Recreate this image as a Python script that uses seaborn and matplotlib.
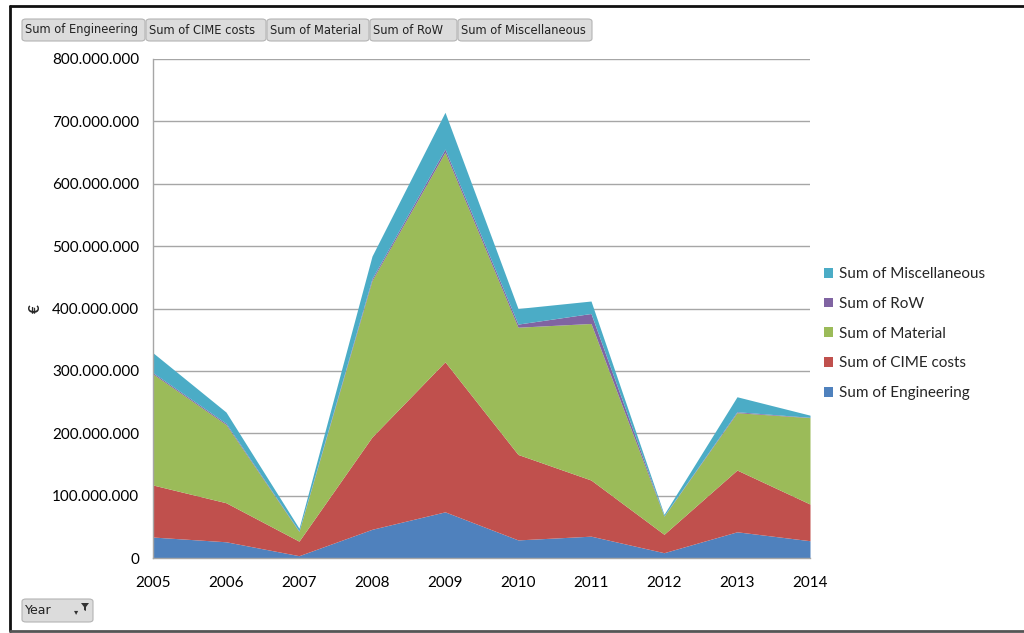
import matplotlib
matplotlib.use("Agg")
import matplotlib.pyplot as plt
from matplotlib.patches import FancyBboxPatch, Patch, Polygon
from matplotlib.lines import Line2D
from matplotlib.ticker import FuncFormatter
import seaborn as sns
import numpy as np

# ---- data (millions of EUR) ----
years = [2005, 2006, 2007, 2008, 2009, 2010, 2011, 2012, 2013, 2014]
engineering = [33.6, 26.0, 3.7, 46.0, 74.0, 29.0, 35.0, 8.5, 42.0, 27.7]
cime_costs = [83.4, 62.6, 23.3, 148.0, 240.6, 137.0, 90.0, 29.5, 99.0, 58.8]
material = [178.0, 125.4, 15.5, 251.0, 336.0, 204.0, 251.0, 29.0, 92.0, 138.5]
row = [2.0, 2.0, 0.7, 3.0, 5.0, 5.0, 16.0, 0.5, 1.5, 0.5]
miscellaneous = [32.0, 18.0, 4.5, 36.0, 59.0, 25.0, 20.0, 2.5, 24.0, 3.5]
series_names = ["Sum of Engineering", "Sum of CIME costs", "Sum of Material",
                "Sum of RoW", "Sum of Miscellaneous"]
y_ticks = [0, 100_000_000, 200_000_000, 300_000_000, 400_000_000,
           500_000_000, 600_000_000, 700_000_000, 800_000_000]

colors = ["#4F81BD", "#C0504D", "#9BBB59", "#8064A2", "#4BACC6"]

sns.set_theme(style="white")
plt.rcParams["font.family"] = ["Lato", "DejaVu Sans"]

fig = plt.figure(figsize=(10.24, 6.33), dpi=100)
ax = fig.add_axes([153 / 1024, 1 - 558 / 633, (810 - 153) / 1024, (558 - 59) / 633])

scale = 1_000_000
vals = [np.array(s) * scale for s in (engineering, cime_costs, material, row, miscellaneous)]
palette = sns.color_palette(colors)
ax.stackplot(years, *vals, colors=palette, linewidth=0, zorder=2)

ax.set_xlim(years[0], years[-1])
ax.set_ylim(y_ticks[0], y_ticks[-1])
ax.set_yticks(y_ticks)
ax.set_xticks(years)
ax.yaxis.set_major_formatter(FuncFormatter(lambda v, p: f"{int(v):,}".replace(",", ".")))
ax.grid(axis="y", color="#A6A6A6", linewidth=1.0, zorder=0)
ax.grid(axis="x", visible=False)
ax.set_axisbelow(True)
for side in ["top", "right"]:
    ax.spines[side].set_visible(False)
for side in ["left", "bottom"]:
    ax.spines[side].set_color("#A6A6A6")
    ax.spines[side].set_linewidth(1.0)
    ax.spines[side].set_zorder(3)
ax.tick_params(axis="both", length=0, labelsize=11, colors="#000000")
ax.tick_params(axis="y", pad=10)
ax.tick_params(axis="x", pad=13)
ax.set_ylabel("€", fontsize=11, fontweight="bold", rotation=90, labelpad=0)
ax.yaxis.set_label_coords((43 - 153) / (810 - 153), 0.5)

# legend (reverse order)
handles = [Patch(facecolor=c, edgecolor="none") for c in colors][::-1]
labels = series_names[::-1]
fig.legend(handles, labels, loc="upper left", bbox_to_anchor=(818 / 1024, 1 - 261 / 633),
           frameon=False, fontsize=11, handlelength=0.6, handleheight=0.6,
           handletextpad=0.4, labelspacing=1.03, borderaxespad=0)

# pivot field buttons
def button(x0, x1, y0, y1, text, size=8.3):
    w = (x1 - x0) / 1024
    h = (y1 - y0) / 633
    p = FancyBboxPatch((x0 / 1024, 1 - y1 / 633), w, h,
                       boxstyle="round,pad=0,rounding_size=0.004",
                       transform=fig.transFigure, facecolor="#DCDCDC",
                       edgecolor="#B4B4B4", linewidth=0.8)
    fig.patches.append(p)
    fig.text(x0 / 1024 + 3 / 1024, 1 - (y0 + y1) / 2 / 633, text, ha="left", va="center",
             fontsize=size, family=["DejaVu Sans"], color="#222222")

btns = [(22, 145, "Sum of Engineering"), (146, 266, "Sum of CIME costs"),
        (267, 369, "Sum of Material"), (370, 457, "Sum of RoW"),
        (458, 592, "Sum of Miscellaneous")]
for x0, x1, t in btns:
    button(x0, x1, 19, 41, t)
button(22, 93, 599, 622, "Year", size=9)
# filter glyph
fig.text(76 / 1024, 1 - 612 / 633, "▾", fontsize=6, ha="center", va="center",
         family=["DejaVu Sans"], color="#333333")
funnel = Polygon([[81 / 1024, 1 - 603 / 633], [89 / 1024, 1 - 603 / 633],
                  [86 / 1024, 1 - 607 / 633], [86 / 1024, 1 - 611 / 633],
                  [84 / 1024, 1 - 610 / 633], [84 / 1024, 1 - 607 / 633]],
                 closed=True, transform=fig.transFigure, facecolor="#333333",
                 edgecolor="none")
fig.patches.append(funnel)

# chart border
fig.lines.append(Line2D([10 / 1024, 1.0], [1 - 5.5 / 633, 1 - 5.5 / 633],
                        transform=fig.transFigure, color="#111111", linewidth=2.0))
fig.lines.append(Line2D([10 / 1024, 10 / 1024], [1 - 5.5 / 633, 1 - 631 / 633],
                        transform=fig.transFigure, color="#111111", linewidth=2.0))
fig.lines.append(Line2D([10 / 1024, 1.0], [1 - 631 / 633, 1 - 631 / 633],
                        transform=fig.transFigure, color="#555555", linewidth=2.0))

fig.savefig("out.png", dpi=100, facecolor="white")
